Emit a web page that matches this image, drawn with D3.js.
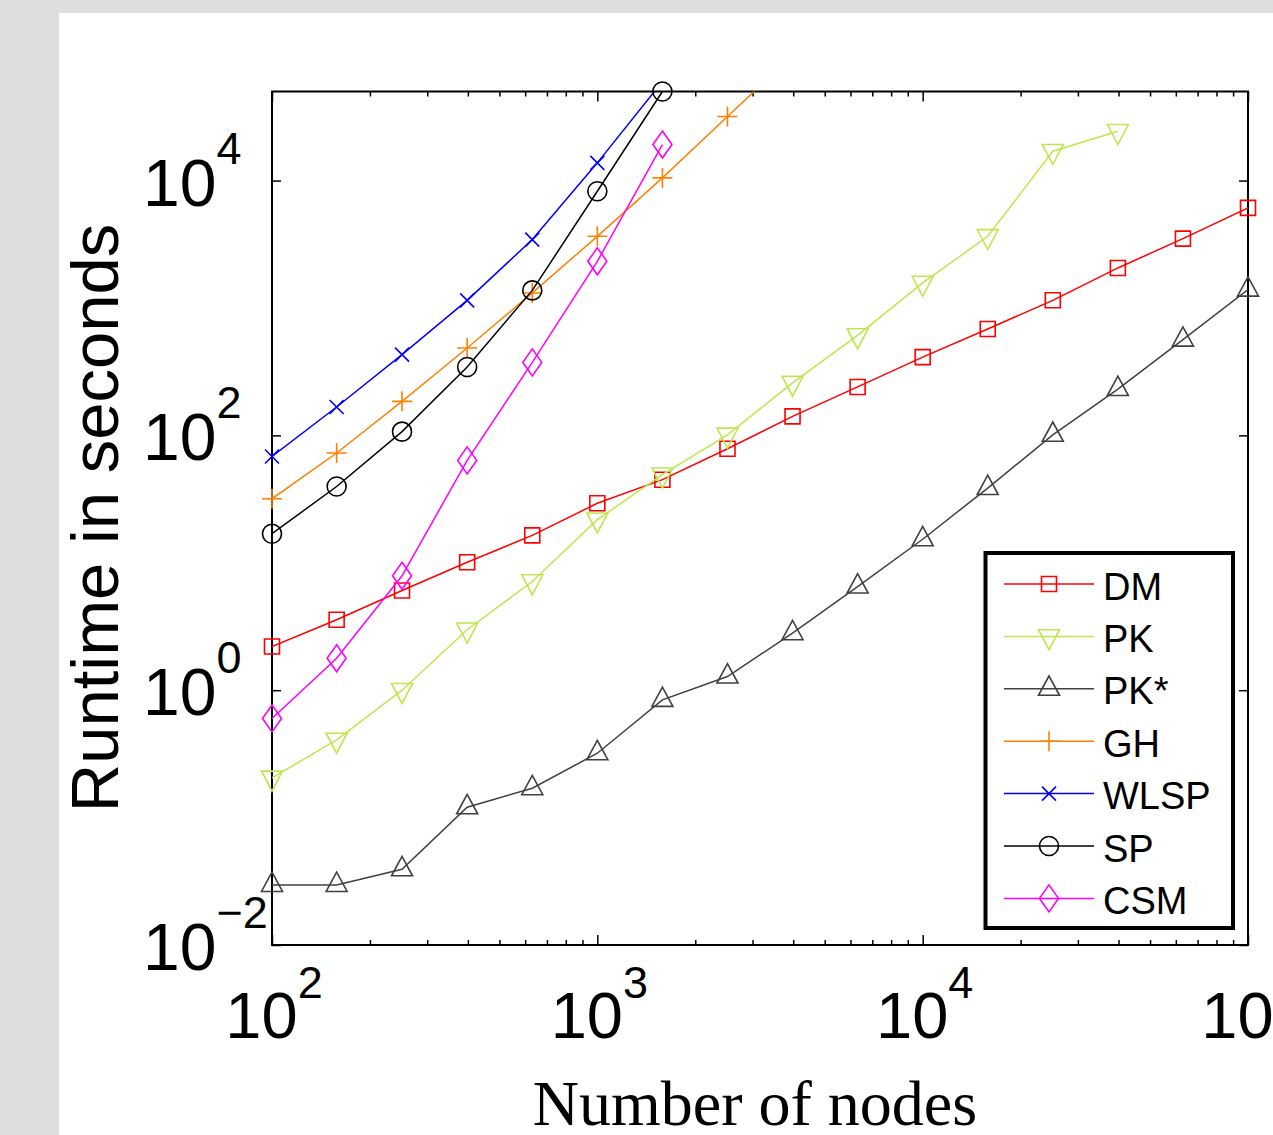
<!DOCTYPE html>
<html><head><meta charset="utf-8">
<script src="https://cdn.jsdelivr.net/npm/d3@7"></script>
<style>html,body{margin:0;padding:0;background:#dedede;overflow:hidden}</style>
</head><body>
<script>
// ---- data ----
const nodes  = [100, 158, 251, 398, 631, 1000, 1585, 2512, 3981, 6310, 10000, 15849, 25119, 39811, 63096, 100000];
const dm     = [2.2, 3.57, 6.06, 10.1, 16.4, 29.3, 44.9, 78.5, 141, 240, 411, 684, 1148, 2061, 3500, 6100];
const pk     = [0.205, 0.407, 1.0, 2.98, 7.13, 21.8, 49.1, 101, 258, 609, 1571, 3650, 16980, 24380];
const pkStar = [0.0296, 0.0296, 0.0393, 0.1205, 0.170, 0.320, 0.839, 1.28, 2.80, 6.51, 15.3, 38.6, 101, 231, 564, 1393];
const gh     = [31.8, 72.7, 185, 485, 1312, 3650, 10490, 31800, 95900];
const wlsp   = [68.3, 167, 430, 1148, 3440, 13770, 59900];
const sp     = [16.9, 39.7, 107, 344, 1374, 8240, 50000];
const csm    = [0.60, 1.78, 7.90, 63.6, 374, 2323, 19170];
const seriesNames = ["DM", "PK", "PK*", "GH", "WLSP", "SP", "CSM"];
const xMajorTicks = [1e2, 1e3, 1e4, 1e5];
const yMajorTicks = [1e-2, 1e0, 1e2, 1e4];
const xTitle = "Number of nodes";
const yTitle = "Runtime in seconds";

// ---- styles ----
const seriesValues = [dm, pk, pkStar, gh, wlsp, sp, csm];
const colors  = ["#ff0000", "#bfe64d", "#404040", "#ff8000", "#0000ff", "#000000", "#ff00ff"];
const markers = ["square", "tri-down", "tri-up", "plus", "cross", "circle", "diamond"];

const W = 1273, H = 1135;
const L = 272, R = 1248, T = 91.5, B = 945;
const sans = "'Liberation Sans', Arial, Helvetica, sans-serif";
const serif = "'Liberation Serif', 'Times New Roman', serif";

const svg = d3.select("body").append("svg").attr("width", W).attr("height", H);
svg.append("rect").attr("width", W).attr("height", H).attr("fill", "#dedede");
svg.append("rect").attr("x", 59).attr("y", 13).attr("width", W - 59).attr("height", H - 13).attr("fill", "#fff");

const x = d3.scaleLog().domain([1e2, 1e5]).range([L, R]);
const y = d3.scaleLog().domain([1e-2, 5e4]).range([B, T]);

function isMajor(d) { const l = Math.log10(d); return Math.abs(l - Math.round(l)) < 1e-9; }

function markerPath(type) {
  const p = d3.path();
  switch (type) {
    case "square": p.rect(-7.5, -7.5, 15, 15); break;
    case "tri-down": p.moveTo(-10.5, -6.7); p.lineTo(10.5, -6.7); p.lineTo(0, 13.3); p.closePath(); break;
    case "tri-up": p.moveTo(-10.5, 6.5); p.lineTo(10.5, 6.5); p.lineTo(0, -12.8); p.closePath(); break;
    case "plus": p.moveTo(-10, 0); p.lineTo(10, 0); p.moveTo(0, -10); p.lineTo(0, 10); break;
    case "cross": p.moveTo(-7, -7); p.lineTo(7, 7); p.moveTo(-7, 7); p.lineTo(7, -7); break;
    case "circle": p.arc(0, 0, 9.5, 0, 2 * Math.PI); p.closePath(); break;
    case "diamond": p.moveTo(0, -13.5); p.lineTo(9.5, 0); p.lineTo(0, 13.5); p.lineTo(-9.5, 0); p.closePath(); break;
  }
  return p.toString();
}

// ---- axes ticks ----
const tickStroke = 1.5;
const gB = svg.append("g").attr("transform", `translate(0,${B})`)
  .call(d3.axisBottom(x).tickValues(x.ticks()).tickSizeInner(-10).tickSizeOuter(0).tickFormat(""));
const gT = svg.append("g").attr("transform", `translate(0,${T})`)
  .call(d3.axisTop(x).tickValues(x.ticks()).tickSizeInner(-10).tickSizeOuter(0).tickFormat(""));
gB.selectAll(".tick line").attr("y2", d => isMajor(d) ? -10 : -5);
gT.selectAll(".tick line").attr("y2", d => isMajor(d) ? 10 : 5);
const gL = svg.append("g").attr("transform", `translate(${L},0)`)
  .call(d3.axisLeft(y).tickValues(yMajorTicks).tickSizeInner(-9).tickSizeOuter(0).tickFormat(""));
const gR = svg.append("g").attr("transform", `translate(${R},0)`)
  .call(d3.axisRight(y).tickValues(yMajorTicks).tickSizeInner(-9).tickSizeOuter(0).tickFormat(""));
[gB, gT, gL, gR].forEach(g => {
  g.select(".domain").remove();
  g.selectAll(".tick line").attr("stroke", "#000").attr("stroke-width", tickStroke);
});

// axis box
svg.append("rect").attr("x", L).attr("y", T).attr("width", R - L).attr("height", B - T)
  .attr("fill", "none").attr("stroke", "#000").attr("stroke-width", 2);

// ---- tick labels ----
function expText(d) { const e = Math.round(Math.log10(d)); return e < 0 ? "\u2212" + (-e) : String(e); }

svg.append("g").selectAll("text").data(xMajorTicks).join("text")
  .attr("x", d => x(d) + 2).attr("y", 1038)
  .attr("text-anchor", "middle").attr("font-family", sans).attr("font-size", 65).attr("fill", "#000")
  .each(function (d) {
    const t = d3.select(this);
    t.append("tspan").text("10");
    t.append("tspan").attr("dy", -40).attr("font-size", 45).text(expText(d));
  });

svg.append("g").selectAll("text").data(yMajorTicks).join("text")
  .attr("x", 143).attr("y", d => y(d) + 25)
  .attr("text-anchor", "start").attr("font-family", sans).attr("font-size", 66).attr("fill", "#000")
  .each(function (d) {
    const t = d3.select(this);
    t.append("tspan").text("10");
    t.append("tspan").attr("dy", -42).attr("font-size", 45).text(expText(d));
  });

// axis titles
svg.append("text").attr("x", 755).attr("y", 1125).attr("text-anchor", "middle")
  .attr("font-family", serif).attr("font-size", 64).attr("fill", "#000").text(xTitle);
svg.append("text").attr("transform", "translate(118,518) rotate(-90)").attr("text-anchor", "middle")
  .attr("font-family", sans).attr("font-size", 67).attr("fill", "#000").text(yTitle);

// ---- series ----
svg.append("clipPath").attr("id", "plotclip").append("rect")
  .attr("x", L).attr("y", T).attr("width", R - L).attr("height", B - T);

const line = d3.line().x(d => x(d[0])).y(d => y(d[1]));
const [y0, y1] = y.domain();

seriesNames.forEach((name, i) => {
  const pts = seriesValues[i].map((v, j) => [nodes[j], v]);
  const g = svg.append("g");
  g.append("path").attr("d", line(pts)).attr("fill", "none")
    .attr("stroke", colors[i]).attr("stroke-width", 1.5).attr("clip-path", "url(#plotclip)");
  const mp = markerPath(markers[i]);
  g.selectAll("path.m").data(pts.filter(p => p[1] >= y0 && p[1] <= y1 * 1.01)).join("path")
    .attr("class", "m").attr("d", mp)
    .attr("transform", p => `translate(${x(p[0])},${y(p[1])})`)
    .attr("fill", "none").attr("stroke", colors[i]).attr("stroke-width", 1.6);
});

// ---- legend ----
const lg = svg.append("g");
lg.append("rect").attr("x", 985.5).attr("y", 553).attr("width", 247.5).attr("height", 375)
  .attr("fill", "#fff").attr("stroke", "#000").attr("stroke-width", 4);
seriesNames.forEach((name, i) => {
  const ry = 584 + i * 52.4;
  lg.append("line").attr("x1", 1004).attr("x2", 1094).attr("y1", ry).attr("y2", ry)
    .attr("stroke", colors[i]).attr("stroke-width", 1.5);
  lg.append("path").attr("d", markerPath(markers[i])).attr("transform", `translate(1049,${ry})`)
    .attr("fill", "none").attr("stroke", colors[i]).attr("stroke-width", 1.6);
  lg.append("text").attr("x", 1103).attr("y", ry + 15.5).attr("font-family", sans)
    .attr("font-size", 38).attr("fill", "#000").text(name);
});
</script>
</body></html>
